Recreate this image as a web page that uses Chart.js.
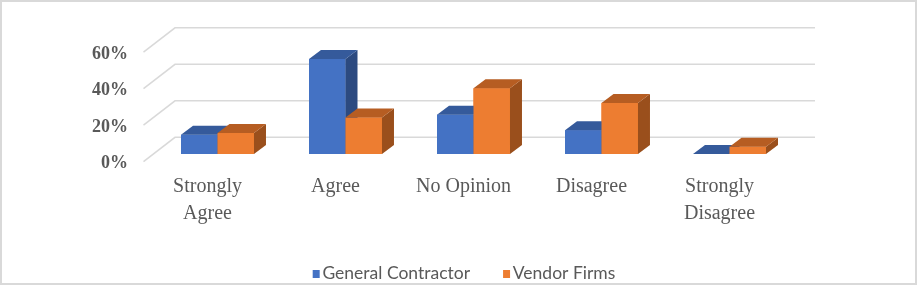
<!DOCTYPE html>
<html>
<head>
<meta charset="utf-8">
<script src="https://cdn.jsdelivr.net/npm/chart.js@4.4.1/dist/chart.umd.min.js"></script>
<style>
  html, body { margin: 0; padding: 0; background: #ffffff; }
  #wrap { width: 917px; height: 286px; }
</style>
</head>
<body>
<div id="wrap"><canvas id="c" width="917" height="286"></canvas></div>
<script>
// ---- data ----
const categories = [['Strongly', 'Agree'], 'Agree', 'No Opinion', 'Disagree', ['Strongly', 'Disagree']];
const generalContractor = [10.5, 52, 21.5, 13, 0];
const vendorFirms = [11.5, 20, 36, 28, 4];
const seriesNames = ['General Contractor', 'Vendor Firms'];
const yTickValues = [0, 20, 40, 60];

// ---- 3D look ----
const faceColors = [
  { front: '#4472C4', top: '#355A9B', side: '#2C4A80' },
  { front: '#ED7D31', top: '#B65D22', side: '#9A4F1C' }
];
const DEPTH = { dx: 12, dy: -9 };      // bar depth
const BACK = { dx: 21.5, dy: -16.7 };  // bar plane -> back wall
const FRONT = { dx: -10, dy: 7.7 };    // bar plane -> front edge of side wall

// legend swatch: square placed right of centre so it sits just before the text
function swatch(color) {
  const cv = document.createElement('canvas');
  cv.width = 16; cv.height = 8;
  const g = cv.getContext('2d');
  g.fillStyle = color;
  g.fillRect(7, 0, 7, 8);
  return cv;
}

const wallPlugin = {
  id: 'walls3d',
  beforeDraw(chart) {
    const ctx = chart.ctx;
    ctx.save();
    ctx.fillStyle = '#ffffff';
    ctx.fillRect(0, 0, chart.width, chart.height);
    ctx.restore();
  },
  beforeDatasetsDraw(chart) {
    const ctx = chart.ctx;
    const ys = chart.scales.y;
    const area = chart.chartArea;
    ctx.save();
    ctx.strokeStyle = '#D9D9D9';
    ctx.lineWidth = 1.5;
    ys.ticks.forEach(t => {
      const yp = ys.getPixelForValue(t.value);
      ctx.beginPath();
      ctx.moveTo(area.left + FRONT.dx, yp + FRONT.dy);
      ctx.lineTo(area.left + BACK.dx, yp + BACK.dy);
      ctx.lineTo(area.right + BACK.dx, yp + BACK.dy);
      ctx.stroke();
    });
    ctx.restore();
  },
  afterDatasetsDraw(chart) {
    const ctx = chart.ctx;
    const metas = chart.data.datasets.map((d, i) => chart.getDatasetMeta(i));
    const n = chart.data.labels.length;
    ctx.save();
    for (let j = 0; j < n; j++) {
      metas.forEach((meta, i) => {
        const el = meta.data[j];
        if (!el) return;
        const p = el.getProps(['x', 'y', 'base', 'width'], true);
        const l = p.x - p.width / 2, r = p.x + p.width / 2;
        const top = Math.min(p.y, p.base), bot = Math.max(p.y, p.base);
        const c = faceColors[i];
        ctx.fillStyle = c.front;
        ctx.fillRect(l, top, r - l, bot - top);
        ctx.fillStyle = c.side;
        ctx.beginPath();
        ctx.moveTo(r, top);
        ctx.lineTo(r + DEPTH.dx, top + DEPTH.dy);
        ctx.lineTo(r + DEPTH.dx, bot + DEPTH.dy);
        ctx.lineTo(r, bot);
        ctx.closePath();
        ctx.fill();
        ctx.fillStyle = c.top;
        ctx.beginPath();
        ctx.moveTo(l, top);
        ctx.lineTo(l + DEPTH.dx, top + DEPTH.dy);
        ctx.lineTo(r + DEPTH.dx, top + DEPTH.dy);
        ctx.lineTo(r, top);
        ctx.closePath();
        ctx.fill();
      });
    }
    ctx.restore();
  },
  afterDraw(chart) {
    const ctx = chart.ctx;
    ctx.save();
    ctx.strokeStyle = '#D9D9D9';
    ctx.lineWidth = 2;
    ctx.strokeRect(1, 1, 915, 283);
    ctx.restore();
  }
};

new Chart(document.getElementById('c'), {
  type: 'bar',
  data: {
    labels: categories,
    datasets: [
      { label: seriesNames[0], data: generalContractor, backgroundColor: faceColors[0].front, pointStyle: swatch(faceColors[0].front) },
      { label: seriesNames[1], data: vendorFirms, backgroundColor: faceColors[1].front, pointStyle: swatch(faceColors[1].front) }
    ]
  },
  options: {
    responsive: false,
    animation: false,
    layout: { padding: { left: 12, right: 0, top: 44.5, bottom: -6.25 } },
    datasets: { bar: { categoryPercentage: 0.57, barPercentage: 1.0 } },
    scales: {
      x: {
        grid: { display: false, drawTicks: false },
        border: { display: false },
        ticks: {
          color: '#595959',
          font: { family: 'Liberation Serif', size: 20, lineHeight: 1.32 },
          padding: 20,
          labelOffset: -10,
          maxRotation: 0,
          autoSkip: false
        },
        afterFit(s) { s.height = 76.75; }
      },
      y: {
        min: 0, max: 60,
        grid: { display: false, drawTicks: false },
        border: { display: false },
        afterBuildTicks(s) { s.ticks = yTickValues.map(v => ({ value: v })); },
        ticks: {
          color: '#595959',
          font: { family: 'Liberation Serif', size: 18, weight: 'bold' },
          padding: 25.5,
          labelOffset: 9.5,
          callback: v => v + '%'
        },
        afterFit(s) { s.width = 141.5; }
      },
      yRight: {
        type: 'linear',
        position: 'right',
        display: true,
        grid: { display: false, drawTicks: false },
        border: { display: false },
        ticks: { display: false },
        afterFit(s) { s.width = 123.5; }
      }
    },
    plugins: {
      tooltip: { enabled: false },
      legend: {
        position: 'bottom',
        labels: {
          color: '#595959',
          font: { family: 'Lato', size: 17.5 },
          usePointStyle: true,
          pointStyleWidth: 0.01,
          boxHeight: 8,
          padding: 34
        }
      }
    }
  },
  plugins: [wallPlugin]
});
</script>
</body>
</html>
